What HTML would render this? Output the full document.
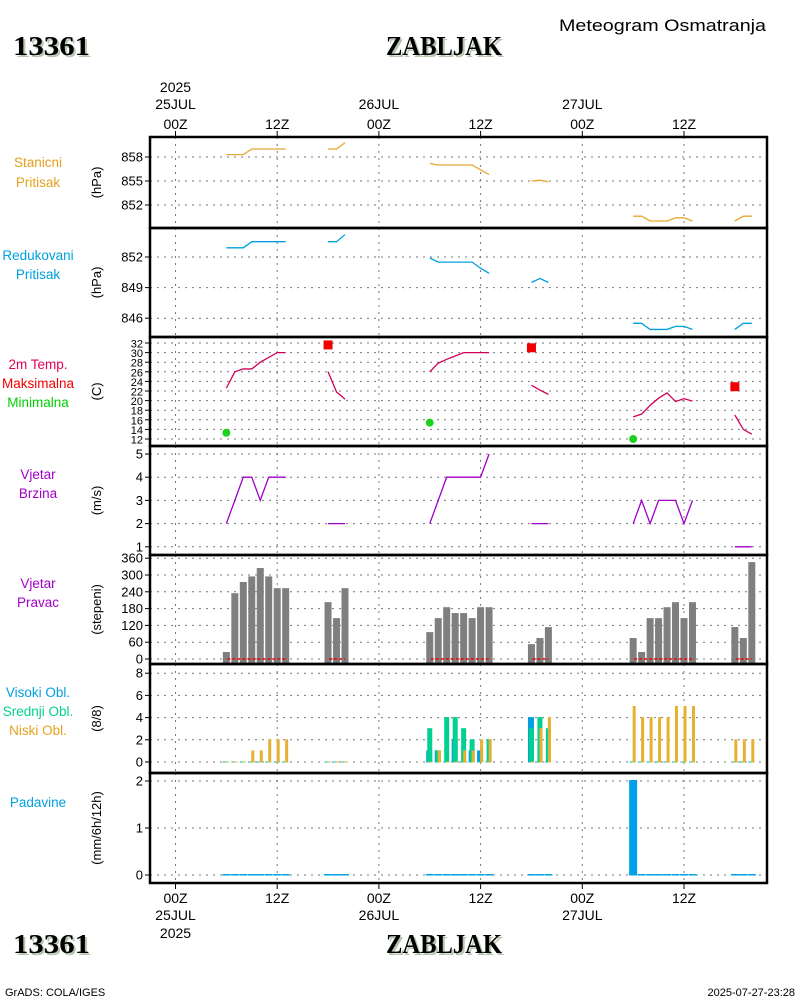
<!DOCTYPE html>
<html><head><meta charset="utf-8"><style>
html,body{margin:0;padding:0;background:#fff;}
svg{display:block;font-family:"Liberation Sans",sans-serif;}
.big{font-family:"Liberation Serif",serif;font-weight:bold;font-size:27px;fill:#000;}
.sh{font-family:"Liberation Serif",serif;font-weight:bold;font-size:27px;fill:#b8c8b0;}
.t{font-size:14px;fill:#000;}
.tk{font-size:13px;fill:#000;}
.lbl{font-size:13.5px;}
</style></head><body>
<svg id="chart" width="800" height="1000" viewBox="0 0 800 1000" xmlns="http://www.w3.org/2000/svg">
<rect width="800" height="1000" fill="#fff"/>
<g>
<text x="559" y="31" class="t" style="font-size:17px" textLength="207" lengthAdjust="spacingAndGlyphs">Meteogram Osmatranja</text>
<text x="15" y="57" class="sh" textLength="77" lengthAdjust="spacingAndGlyphs">13361</text>
<text x="13" y="55" class="big" textLength="77" lengthAdjust="spacingAndGlyphs">13361</text>
<text x="388" y="57" class="sh" textLength="116" lengthAdjust="spacingAndGlyphs">ZABLJAK</text>
<text x="386" y="55" class="big" textLength="116" lengthAdjust="spacingAndGlyphs">ZABLJAK</text>
<text x="15" y="955" class="sh" textLength="77" lengthAdjust="spacingAndGlyphs">13361</text>
<text x="13" y="953" class="big" textLength="77" lengthAdjust="spacingAndGlyphs">13361</text>
<text x="388" y="955" class="sh" textLength="116" lengthAdjust="spacingAndGlyphs">ZABLJAK</text>
<text x="386" y="953" class="big" textLength="116" lengthAdjust="spacingAndGlyphs">ZABLJAK</text>
<text x="5" y="996" style="font-size:11px">GrADS: COLA/IGES</text>
<text x="795" y="996" style="font-size:11px" text-anchor="end">2025-07-27-23:28</text>
</g>
<g id="plot"></g>
</svg>
<script>
// ---- data ----
const segHours = [[6,7,8,9,10,11,12,13],[18,19,20],[30,31,32,33,34,35,36,37],[42,43,44],[54,55,56,57,58,59,60,61],[66,67,68]];
const stationP = [[858.3,858.3,858.3,859,859,859,859,859],[859,859,859.8],[857.2,857,857,857,857,857,856.4,855.8],[855,855.1,854.9],[850.6,850.6,850,850,850,850.4,850.4,850],[850,850.6,850.6]];
const reducedP = [[852.9,852.9,852.9,853.5,853.5,853.5,853.5,853.5],[853.5,853.5,854.2],[851.9,851.5,851.5,851.5,851.5,851.5,850.9,850.4],[849.5,849.9,849.5],[845.5,845.5,844.9,844.9,844.9,845.2,845.2,844.9],[844.9,845.5,845.5]];
const temp2m = [[22.6,26,26.6,26.6,28,29,30,30],[26,21.8,20.3],[26,27.8,28.6,29.3,30,30,30,30],[23.2,22.2,21.3],[16.6,17.2,19,20.5,21.6,19.8,20.4,19.9],[17,14,13]];
const tmaxHours = [18,42,66], tmaxVals = [31.6,31,22.9];
const tminHours = [6,30,54], tminVals = [13.3,15.4,12];
const windSpd = [[2,3,4,4,3,4,4,4],[2,2,2],[2,3,4,4,4,4,4,5],[2,2,2],[2,3,2,3,3,3,2,3],[1,1,1]];
const windDir = [[25,235,275,295,325,295,253,253],[203,146,253],[96,146,185,164,164,146,185,185],[53,75,114],[75,25,146,146,185,203,146,203],[114,75,346]];
const cloudHigh = [[0,0,0,0,0,0,0,0],[0,0,0],[1,1,0,2,0,1,1,0],[4,0,0],[0,0,0,0,0,0,0,0],[0,0,0]];
const cloudMid = [[0,0,0,0,0,0,0,0],[0,0,0],[3,1,4,4,3,2,0,2],[3,4,3],[0,0,0,0,0,0,0,0],[0,0,0]];
const cloudLow = [[0,0,0,1,1,2,2,2],[0,0,0],[0,1,0,0,1,1,2,2],[0,3,4],[5,4,4,4,4,5,5,5],[2,2,2]];
const precip = [[0,0,0,0,0,0,0,0],[0,0,0],[0,0,0,0,0,0,0,0],[0,0,0],[2,0,0,0,0,0,0,0],[0,0,0]];
const timeTicks = [0,12,24,36,48,60];
const timeLabels = ["00Z","12Z","00Z","12Z","00Z","12Z"];
const dayLabels = ["25JUL","","26JUL","","27JUL",""];

// ---- layout ----
const X0=150, X1=767;
const xs = h => 175.5 + h*(101.7/12);
const panels = [
 {name:'station-pressure',top:137,bot:228,ticks:[858,855,852],y:v=>157+(858-v)*8,unit:'(hPa)',lbls:[['Stanicni','#e6a020'],['Pritisak','#e6a020']],ly:[167,187]},
 {name:'reduced-pressure',top:228,bot:337,ticks:[852,849,846],y:v=>257+(852-v)*10.2,unit:'(hPa)',lbls:[['Redukovani','#00a0e0'],['Pritisak','#00a0e0']],ly:[260,279]},
 {name:'temperature',top:337,bot:446,ticks:[32,30,28,26,24,22,20,18,16,14,12],y:v=>343+(32-v)*4.8,unit:'(C)',lbls:[['2m Temp.','#e0005a'],['Maksimalna','#f00000'],['Minimalna','#00d000']],ly:[369,388,407],fs:11},
 {name:'wind-speed',top:446,bot:555,ticks:[5,4,3,2,1],y:v=>454+(5-v)*23.2,unit:'(m/s)',lbls:[['Vjetar','#a000c8'],['Brzina','#a000c8']],ly:[479,498]},
 {name:'wind-direction',top:555,bot:664,ticks:[360,300,240,180,120,60,0],y:v=>659-v*0.28,unit:'(stepeni)',lbls:[['Vjetar','#a000c8'],['Pravac','#a000c8']],ly:[588,607]},
 {name:'cloud-cover',top:664,bot:773,ticks:[8,6,4,2,0],y:v=>762-v*11.1,unit:'(8/8)',lbls:[['Visoki Obl.','#00a0e0'],['Srednji Obl.','#00d090'],['Niski Obl.','#e6a020']],ly:[697,716,735]},
 {name:'precipitation',top:773,bot:883,ticks:[2,1,0],y:v=>875-v*47,unit:'(mm/6h/12h)',lbls:[['Padavine','#00a0e0']],ly:[807]}
];
const NS='http://www.w3.org/2000/svg';
const plot=document.getElementById('plot');
function mk(tag,attrs,parent){const e=document.createElementNS(NS,tag);for(const k in attrs)e.setAttribute(k,attrs[k]);(parent||plot).appendChild(e);return e;}

panels.forEach((p,pi)=>{
 const g=mk('g',{});
 
 
 p.g=g;
 timeTicks.forEach(h=>{
  const l=mk('line',{x1:xs(h),x2:xs(h),y1:p.top,y2:p.bot,stroke:'#777','stroke-dasharray':'2,5'},g);
  
  
 });
 p.ticks.forEach(v=>{
  const y=p.y(v);
  const l=mk('line',{x1:X0,x2:X1,y1:y,y2:y,stroke:'#777','stroke-dasharray':'2,5'},g);
  
  
  mk('line',{x1:X0-5,x2:X0,y1:y,y2:y,stroke:'#000'},g);
  const t=mk('text',{x:X0-7,y:y+4.5,'text-anchor':'end',class:'tk'},g);
  if(p.fs) t.setAttribute('style','font-size:'+p.fs+'px');
  t.textContent=v;
  
  
 });
 const cy=(p.top+p.bot)/2;
 const u=mk('text',{x:0,y:0,'text-anchor':'middle',class:'tk',transform:`translate(101,${cy}) rotate(-90)`},g);
 u.textContent=p.unit;
 
 
 p.lbls.forEach((lb,i)=>{
  const t=mk('text',{x:38,y:p.ly[i],'text-anchor':'middle',class:'lbl',fill:lb[1]},g);
  t.textContent=lb[0];
  
  
 });
});

function lineSeries(p,vals,color,name){
 segHours.forEach((hs,si)=>{
  const pts=hs.map((h,i)=>xs(h)+','+p.y(vals[si][i])).join(' ');
  const pl=mk('polyline',{points:pts,fill:'none',stroke:color,'stroke-width':1.3},p.g);
  
  
 });
}
lineSeries(panels[0],stationP,'#e6a830','station-pressure-line');
lineSeries(panels[1],reducedP,'#00a0e0','reduced-pressure-line');
lineSeries(panels[2],temp2m,'#d0005a','temperature-line');
lineSeries(panels[3],windSpd,'#a000c8','wind-speed-line');
tmaxHours.forEach((h,i)=>{
 const r=mk('rect',{x:xs(h)-4.5,y:panels[2].y(tmaxVals[i])-4.5,width:9,height:9,fill:'#f00000'},panels[2].g);
 
 
});
tminHours.forEach((h,i)=>{
 const c=mk('circle',{cx:xs(h),cy:panels[2].y(tminVals[i]),r:4,fill:'#20d020'},panels[2].g);
 
 
});
const pw=panels[4];
segHours.forEach((hs,si)=>{
 hs.forEach((h,i)=>{
  const y=pw.y(windDir[si][i]);
  const r=mk('rect',{x:xs(h)-3.5,y:y,width:7,height:pw.bot-y,fill:'#7f7f7f'},pw.g);
  
  
 });
 const l=mk('line',{x1:xs(hs[0])+1,x2:xs(hs[hs.length-1]),y1:pw.y(0),y2:pw.y(0),stroke:'#f00000','stroke-width':1.5,'stroke-dasharray':'3,2'},pw.g);
 
 
});
const pc=panels[5];
segHours.forEach((hs,si)=>{
 hs.forEach((h,i)=>{
  const x=xs(h), b=pc.y(0);
  const hv=cloudHigh[si][i], mv=cloudMid[si][i], lv=cloudLow[si][i];
  const rh=mk('rect',{x:x-3.5,y:pc.y(hv)-0.5,width:6,height:b-pc.y(hv)+1,fill:'#00a0e0'},pc.g);
  
  
  const rm=mk('rect',{x:x-2.5,y:pc.y(mv)-0.5,width:5,height:b-pc.y(mv)+1,fill:'#00d090'},pc.g);
  
  
  const rl=mk('rect',{x:x-0.5,y:pc.y(lv)-0.5,width:3,height:b-pc.y(lv)+1,fill:'#e6b030'},pc.g);
  
  
 });
});
const pp=panels[6];
segHours.forEach((hs,si)=>{
 hs.forEach((h,i)=>{
  const y=pp.y(precip[si][i]);
  const r=mk('rect',{x:xs(h)-4,y:y-1,width:8,height:pp.y(0)-y+1.5,fill:'#00a0e8'},pp.g);
  
  
 });
});
panels.forEach(p=>{
 const r=mk('rect',{x:X0,y:p.top,width:X1-X0,height:p.bot-p.top,fill:'none',stroke:'#000','stroke-width':2.5});
 
 
});
const ax=mk('g',{});


timeTicks.forEach((h,i)=>{
 const x=xs(h);
 mk('line',{x1:x,x2:x,y1:131,y2:137,stroke:'#000'},ax);
 mk('line',{x1:x,x2:x,y1:883,y2:889,stroke:'#000'},ax);
 const a=mk('text',{x:x,y:129,'text-anchor':'middle',class:'t'},ax);
 a.textContent=timeLabels[i];
 
 
 const b=mk('text',{x:x,y:903,'text-anchor':'middle',class:'t'},ax);
 b.textContent=timeLabels[i];
 
 
 if(dayLabels[i]){
  const d=mk('text',{x:x,y:109,'text-anchor':'middle',class:'t'},ax);
  d.textContent=dayLabels[i];
  
  
  const d2=mk('text',{x:x,y:920,'text-anchor':'middle',class:'t'},ax);
  d2.textContent=dayLabels[i];
  
  
 }
});
const y1=mk('text',{x:xs(0),y:92,'text-anchor':'middle',class:'t'},ax);
y1.textContent='2025';


const y2=mk('text',{x:xs(0),y:938,'text-anchor':'middle',class:'t'},ax);
y2.textContent='2025';


</script>
</body></html>
